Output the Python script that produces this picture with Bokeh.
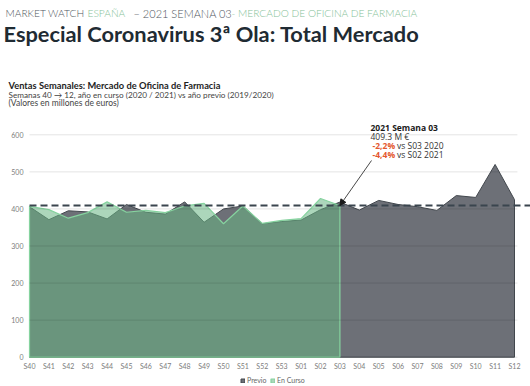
from bokeh.plotting import figure
from bokeh.models import (Range1d, FixedTicker, Label, Arrow, NormalHead,
                          Legend, LegendItem)
from bokeh.embed import file_html
from bokeh.resources import INLINE

# ---------------- data ----------------
WEEKS = ["S40", "S41", "S42", "S43", "S44", "S45", "S46", "S47", "S48", "S49",
         "S50", "S51", "S52", "S53", "S01", "S02", "S03", "S04", "S05", "S06",
         "S07", "S08", "S09", "S10", "S11", "S12"]
# año previo (2019/2020), millones de euros
PREVIO = [406, 371, 395, 392, 373, 412, 391, 386, 419, 364, 400, 408, 360,
          366, 370, 398, 418.5, 397, 423, 412, 406, 396, 436, 431, 520, 425]
# año en curso (2020/2021), hasta S03
EN_CURSO = [407, 398, 375, 390, 419, 391, 396, 390, 408, 415, 360, 408, 361,
            369, 374, 428.1, 409.3]
Y_TICKS = [0, 100, 200, 300, 400, 500, 600]
SERIES_NAMES = ["Previo", "En Curso"]

# ---------------- figure ----------------
W, H = 530, 386
PX_X = 19.4        # pixels per week
PX_Y = 0.37067     # pixels per million euro
X0_PX, Y0_PX = 29, 356.7   # pixel position of (S40, 0) in the figure

p = figure(width=W, height=H, output_backend="svg", toolbar_location=None,
           x_range=Range1d(-X0_PX / PX_X, (W - X0_PX) / PX_X),
           y_range=Range1d(-(H - Y0_PX) / PX_Y, Y0_PX / PX_Y),
           min_border=0)
p.outline_line_color = None
p.grid.visible = False

n_prev = len(PREVIO)
n_cur = len(EN_CURSO)
xp = list(range(n_prev))
xc = list(range(n_cur))

r_prev = p.patch(xp + [xp[-1], 0], PREVIO + [0, 0],
                 fill_color="#6d7077", line_color="#42474d", line_width=1)
r_cur = p.patch(xc + [xc[-1], 0], EN_CURSO + [0, 0],
                fill_color="#68b583", fill_alpha=0.55,
                line_color="#86d39f", line_width=1.2)

# horizontal grid lines (drawn faintly over the areas)
p.segment(x0=0, x1=n_prev - 1 + 0.15, y0=Y_TICKS, y1=Y_TICKS,
          line_color="black", line_alpha=0.11, line_width=1)

# reference level: current week value, to the right edge
p.ray(x=[0], y=[EN_CURSO[-1]], length=0, angle=0,
      line_color="#3a454e", line_width=2, line_dash="7 4")

# axes drawn at fixed locations inside the frame
for ax in (p.xaxis, p.yaxis):
    ax.fixed_location = 0
    ax.axis_line_color = None
    ax.major_tick_line_color = None
    ax.minor_tick_line_color = None
    ax.major_tick_out = 0
    ax.major_tick_in = 0
    ax.minor_tick_out = 0
    ax.minor_tick_in = 0
    ax.major_label_text_font = "Lato"
    ax.major_label_text_font_size = "7px"
    ax.major_label_text_color = "#7d7d7d"

p.yaxis.ticker = FixedTicker(ticks=Y_TICKS)
p.yaxis.major_label_standoff = 6
p.xaxis.ticker = FixedTicker(ticks=xp)
p.xaxis.major_label_overrides = {i: w for i, w in enumerate(WEEKS)}
p.xaxis.major_label_standoff = 5


def lab(x, y, text, size="8.5px", color="#333333", style="normal", font="Open Sans"):
    # x from the left edge, y = baseline from the top edge (figure pixels)
    p.add_layout(Label(x=x, y=H - y, x_units="screen", y_units="screen", text=text,
                       text_font=font, text_font_size=size, text_color=color,
                       text_font_style=style, text_baseline="alphabetic",
                       text_align="left"))


# ---------------- header ----------------
GRAY_H = "#4f565e"
GREEN_H = "#86c299"
LIGHT = "Lato Light, Lato"
lab(5, 12.5, "MARKET WATCH", "10.2px", GRAY_H, font=LIGHT)
lab(87, 12.5, "ESPAÑA", "10.2px", GREEN_H, font=LIGHT)
lab(133, 12.5, "– 2021 SEMANA 03", "11px", GRAY_H, font=LIGHT)
lab(231, 12.5, "- MERCADO DE OFICINA DE FARMACIA", "10.2px", GREEN_H, font=LIGHT)
lab(3, 33.3, "Especial Coronavirus 3ª Ola: Total Mercado", "21.8px", "#1f2b33",
    "bold", font="Lato")
lab(8, 85, "Ventas Semanales: Mercado de Oficina de Farmacia", "9.3px", "#1e1e1e",
    "bold", font="Lato")
lab(8, 94.5, "Semanas 40 → 12, año en curso (2020 / 2021) vs año previo (2019/2020)",
    "8.2px", "#444444", font="Lato")
lab(8, 102.7, "(Valores en millones de euros)", "8.5px", "#444444", font="Lato")

# ---------------- annotation ----------------
cur = EN_CURSO[-1]
prev_same = PREVIO[n_cur - 1]
cur_prev_week = EN_CURSO[-2]
pct1 = (cur / prev_same - 1) * 100
pct2 = (cur / cur_prev_week - 1) * 100
fmt = lambda v: f"{v:.1f}%".replace(".", ",")
RED = "#e4572e"
lab(370, 126.7, f"2021 Semana {WEEKS[n_cur - 1][1:]}", color="#1a1a1a", style="bold")
lab(370, 136, f"{cur:.1f} M €")
lab(372, 145.3, fmt(pct1), color=RED, style="bold")
lab(396.5, 145.3, f"vs {WEEKS[n_cur - 1]} 2020")
lab(372, 154.3, fmt(pct2), color=RED, style="bold")
lab(396.5, 154.3, f"vs {WEEKS[n_cur - 2]} 2021")

p.add_layout(Arrow(end=NormalHead(size=6, fill_color="#1a1a1a", line_color="#1a1a1a"),
                   x_start=371, y_start=H - 160, start_units="screen",
                   x_end=n_cur - 1, y_end=cur, end_units="data",
                   line_color="#1a1a1a", line_width=0.8))

# ---------------- legend ----------------
legend = Legend(items=[LegendItem(label=SERIES_NAMES[0], renderers=[r_prev]),
                       LegendItem(label=SERIES_NAMES[1], renderers=[r_cur])],
                location=(240, 2), orientation="horizontal",
                glyph_width=5, glyph_height=5, label_height=8, label_standoff=2,
                spacing=3, padding=0, margin=0,
                label_text_font="Lato", label_text_font_size="7px",
                label_text_color="#666666",
                background_fill_alpha=0, border_line_alpha=0)
p.add_layout(legend)

open("out.html", "w").write(file_html(p, INLINE))
